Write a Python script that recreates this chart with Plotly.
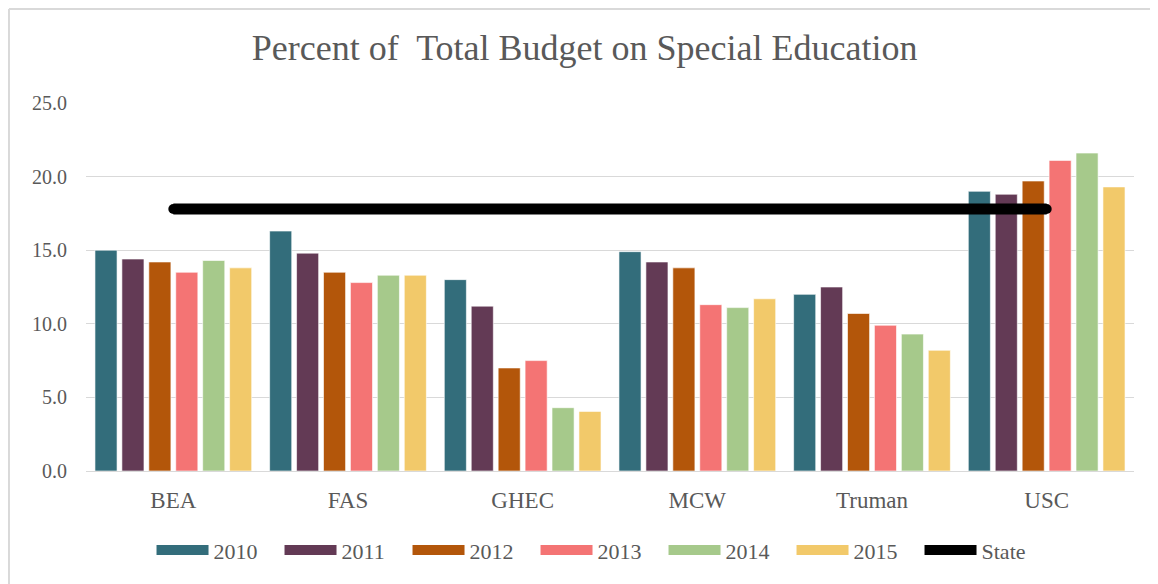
import plotly.graph_objects as go

categories = ["BEA", "FAS", "GHEC", "MCW", "Truman", "USC"]
years = ["2010", "2011", "2012", "2013", "2014", "2015"]
values = {
    "2010": [15.0, 16.3, 13.0, 14.9, 12.0, 19.0],
    "2011": [14.4, 14.8, 11.2, 14.2, 12.5, 18.8],
    "2012": [14.2, 13.5, 7.0, 13.8, 10.7, 19.7],
    "2013": [13.5, 12.8, 7.5, 11.3, 9.9, 21.1],
    "2014": [14.3, 13.3, 4.3, 11.1, 9.3, 21.6],
    "2015": [13.8, 13.3, 4.05, 11.7, 8.2, 19.3],
}
state = [17.8, 17.8, 17.8, 17.8, 17.8, 17.8]
colors = ["#336d7b", "#633a55", "#b3560a", "#f47474", "#a6c98b", "#f2c96a"]

FONT = "Liberation Serif"
TXT = "#595959"

fig = go.Figure()
for y, c in zip(years, colors):
    fig.add_trace(go.Bar(
        x=categories, y=values[y], name=y, legendgroup=y, showlegend=False,
        marker=dict(color=c, line=dict(color="rgba(255,255,255,0.6)", width=1)),
    ))
fig.add_trace(go.Scatter(
    x=categories, y=state, name="State", mode="lines+markers", showlegend=False,
    legendgroup="State",
    line=dict(color="black", width=11),
    marker=dict(color="black", size=10, line=dict(width=0)),
))
# legend entries (wide swatches like the original)
for y, c in zip(years, colors):
    fig.add_trace(go.Scatter(
        x=[None], y=[None], name=y, legendgroup=y, mode="lines",
        line=dict(color=c, width=13),
    ))
fig.add_trace(go.Scatter(
    x=[None], y=[None], name="State", legendgroup="State", mode="lines",
    line=dict(color="black", width=11),
))

fig.update_layout(
    width=1158, height=584,
    margin=dict(l=78, r=32, t=95, b=121),
    paper_bgcolor="white", plot_bgcolor="white",
    barmode="group", bargap=0.075, bargroupgap=0.18,
    title=dict(text="Percent of  Total Budget on Special Education",
               x=0.498, xanchor="center", y=0.932, yanchor="middle",
               font=dict(family=FONT, size=36, color=TXT)),
    font=dict(family=FONT, color=TXT),
    legend=dict(orientation="h", x=0.490, xanchor="center", y=-0.215, yanchor="middle",
                font=dict(family=FONT, size=22, color=TXT), itemwidth=52,
                entrywidth=61, entrywidthmode="pixels",
                traceorder="normal"),
    xaxis=dict(showgrid=False, showline=True, linecolor="#d9d9d9", linewidth=1,
               tickfont=dict(family=FONT, size=23, color=TXT), ticks="",
               ticklabelstandoff=8),
    yaxis=dict(range=[0, 25], dtick=5, tickformat=".1f", showgrid=True,
               gridcolor="#d9d9d9", gridwidth=1, zeroline=False,
               tickfont=dict(family=FONT, size=20, color=TXT), ticks="",
               ticklabelstandoff=18),
    shapes=[
        dict(type="line", xref="paper", yref="paper",
             x0=-0.0735, x1=1.05, y0=1.2554, y1=1.2554,
             line=dict(color="#d9d9d9", width=2), layer="below"),
        dict(type="line", xref="paper", yref="paper",
             x0=-0.0735, x1=-0.0735, y0=-0.4, y1=1.2554,
             line=dict(color="#d9d9d9", width=2), layer="below"),
    ],
)

fig.write_html("out.html")
